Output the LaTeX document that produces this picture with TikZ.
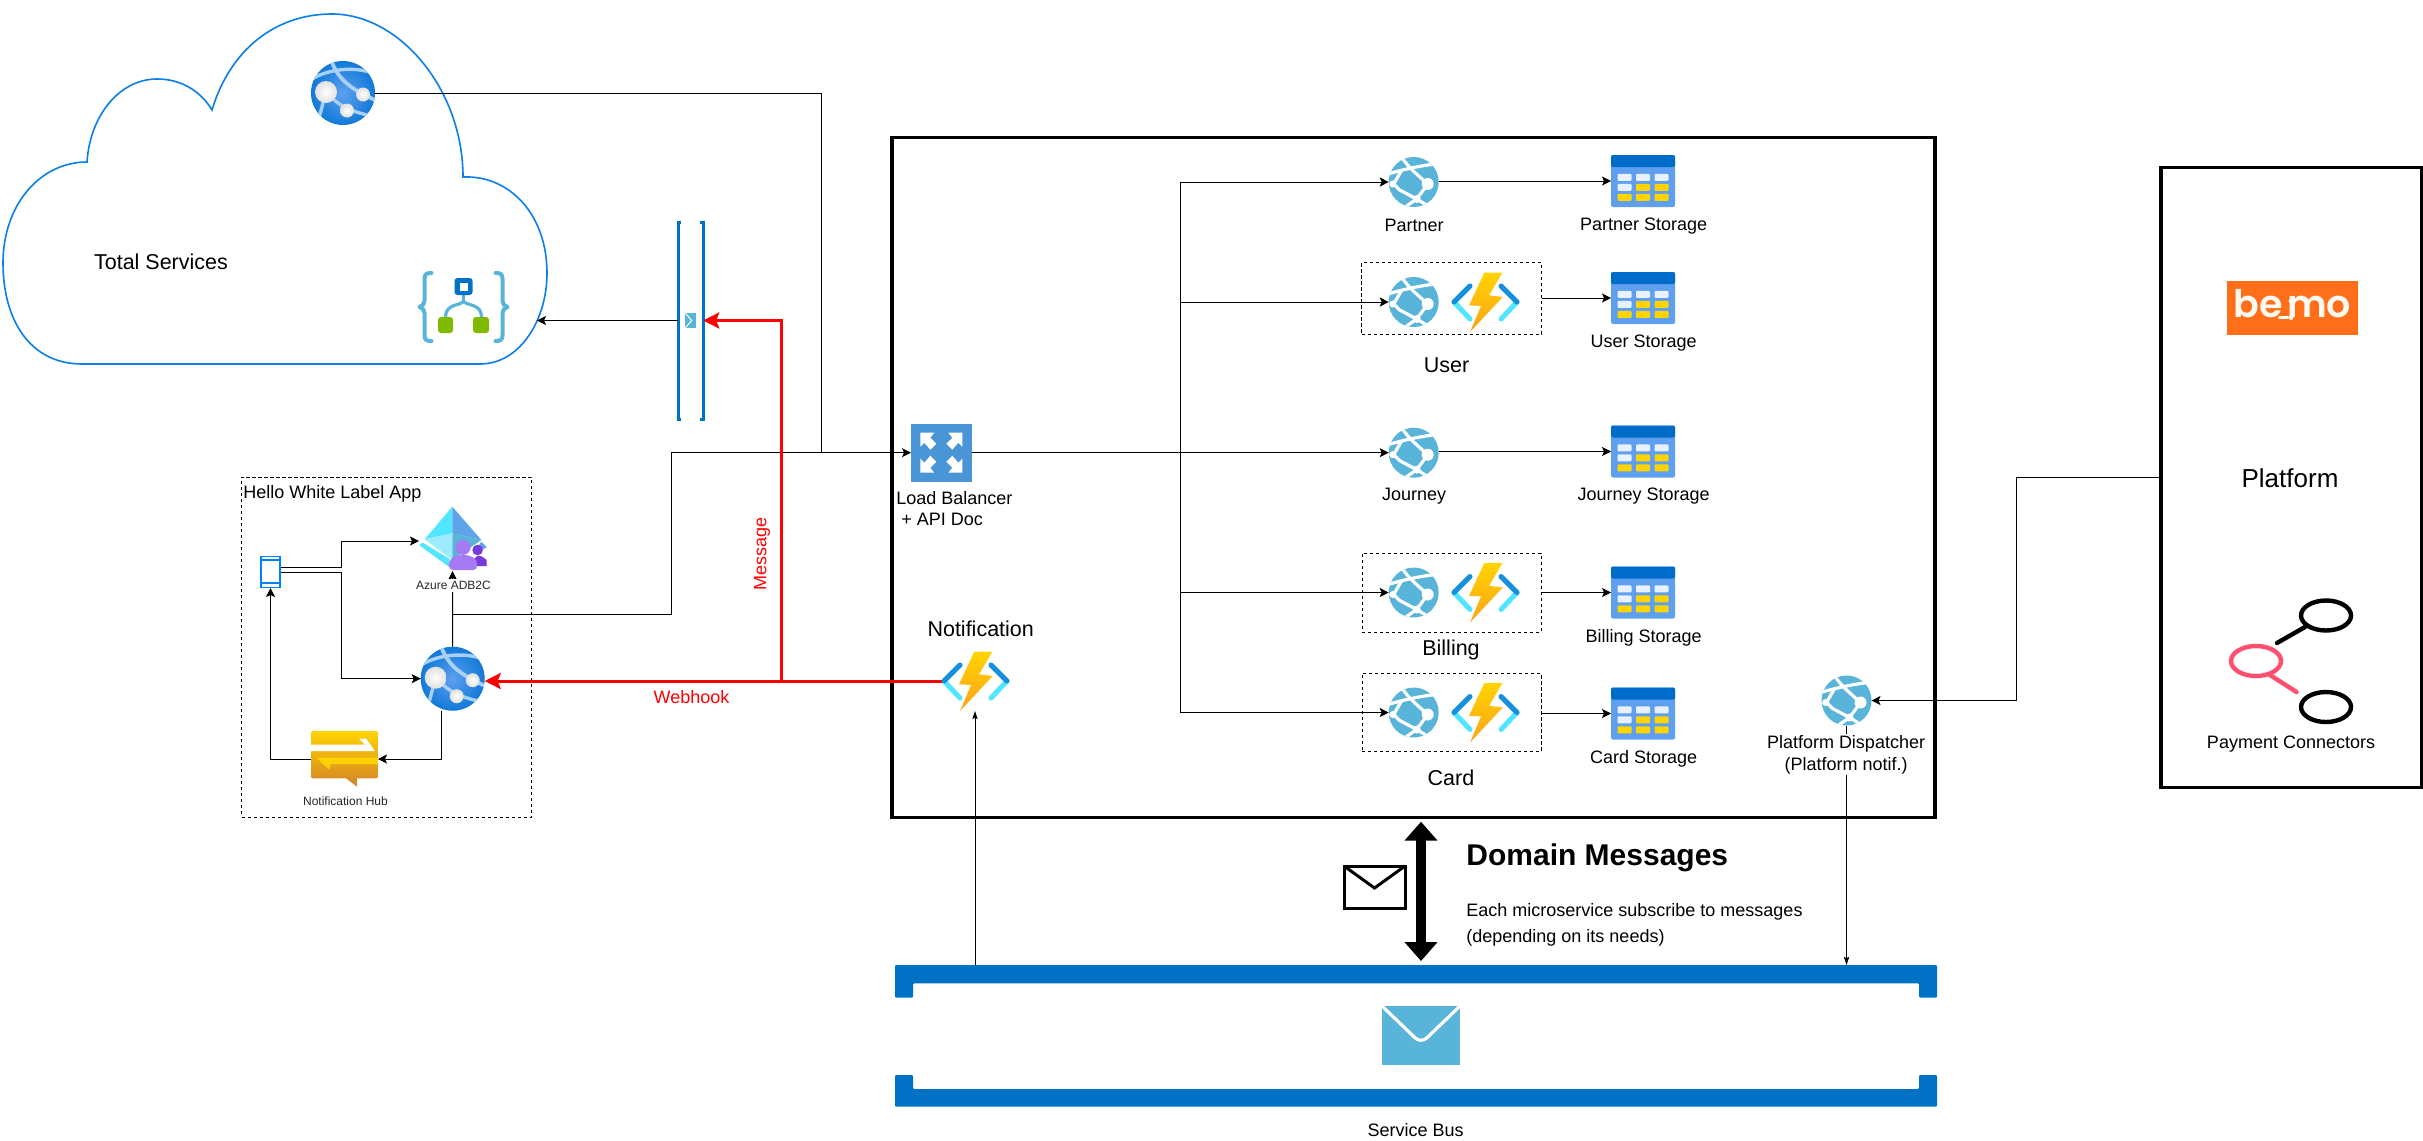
\documentclass[tikz,border=0pt]{standalone}
\usepackage{fontspec}
\setmainfont{Liberation Sans}
\newfontfamily\logofont[BoldFont=Poppins SemiBold]{Poppins}
\usetikzlibrary{arrows.meta,calc}
\definecolor{azblue}{HTML}{0072C6}
\definecolor{cloudblue}{HTML}{0A7FE8}
\definecolor{skyb}{HTML}{59B4D9}
\definecolor{lbblue}{HTML}{4A95D6}
\definecolor{stbody}{HTML}{5EA0EF}
\definecolor{stcell}{HTML}{E8F1FD}
\definecolor{gold}{HTML}{FFD400}
\definecolor{bemoor}{HTML}{FF6F1A}
\definecolor{pink}{HTML}{FF4F6E}
\definecolor{ltarc}{HTML}{A8D0F5}
\definecolor{globeout}{HTML}{0F78D8}
\definecolor{leaf}{HTML}{7FB900}
\definecolor{cyanl}{HTML}{50E6FF}
\definecolor{cyanp}{HTML}{9CEBFF}
\definecolor{funcb}{HTML}{1490DF}
\definecolor{boltb}{HTML}{FEA11B}
\definecolor{persona}{HTML}{A67AF4}
\definecolor{personb}{HTML}{773ADC}
\newcommand{\bracepath}[1]{\draw[skyb,line width=2pt,line cap=round,line join=round] (#1*-32,-34) .. controls (#1*-37,-34) and (#1*-39,-33) .. (#1*-39,-28) -- (#1*-39,-6) .. controls (#1*-39,-3) and (#1*-41,-1) .. (#1*-44,0) .. controls (#1*-41,1) and (#1*-39,3) .. (#1*-39,6) -- (#1*-39,28) .. controls (#1*-39,33) and (#1*-37,34) .. (#1*-32,34);}
\tikzset{
  x=0.5pt,y=-0.5pt,
  iconbox/.style 2 args={rectangle,draw=none,inner sep=0pt,outer sep=0pt,minimum width=#1*0.5pt,minimum height=#2*0.5pt},
  conn/.style={draw=black,line width=.5pt,-{Stealth[length=4.5pt,width=4.5pt,inset=1pt]}},
  thinconn/.style={draw=black,line width=.4pt,-{Stealth[length=4pt,width=2.6pt,inset=.6pt]}},
  plain/.style={draw=black,line width=.5pt},
  redconn/.style={draw=red,line width=1.5pt,-{Stealth[length=8pt,width=8pt,inset=1.5pt]}},
  dashbox/.style={draw=black,line width=.5pt,dash pattern=on 1.6pt off 1.4pt},
  heavybox/.style={draw=black,line width=1.6pt},
  txt/.style={inner sep=0pt,font=\fontsize{9}{10.8}\selectfont,text=black},
  txtsm/.style={inner sep=0pt,font=\fontsize{6}{7}\selectfont,text=black!85},
  txtlg/.style={inner sep=0pt,font=\fontsize{10.75}{13}\selectfont,text=black},
  webapp/.pic={
    \begin{scope}
      \clip (0,0) circle[radius=32];
      \shade[inner color=stbody,outer color=globeout] (-33,-33) rectangle (33,33);
      \draw[ltarc,line width=1.9pt] (-12,-33) .. controls (-4,-12) and (8,-4) .. (34,8);
      \draw[ltarc,line width=1.7pt] (-34,-12) .. controls (-18,-24) and (14,-28) .. (34,-18);
      \draw[ltarc,line width=1.7pt] (-17,-1) .. controls (-8,8) and (0,18) .. (34,24);
      \draw[ltarc,line width=1.7pt] (-17,-1) -- (-27,36);
    \end{scope}
    \shade[inner color=white,outer color=black!12] (-17,-1) circle[radius=11];
    \shade[inner color=white,outer color=black!12] (20,1.5) circle[radius=7];
    \shade[inner color=white,outer color=black!12] (4,17.5) circle[radius=7];
  },
  webservice/.pic={
    \begin{scope}
      \clip (0,0) circle[radius=25];
      \fill[skyb] (-26,-26) rectangle (26,26);
      \draw[white,line width=1.6pt] (-12,-25) .. controls (-6,-15) and (4,-7) .. (14,2);
      \draw[white,line width=1.6pt] (-26,-8) .. controls (-12,-12) and (4,-16) .. (22,-18);
      \draw[white,line width=1.6pt] (-20,2) -- (-14,8) -- (3,17) -- (16,25);
      \draw[white,line width=1.6pt] (14,2) -- (3,17) -- (-10,26);
      \draw[white,line width=1.6pt] (-20,2) -- (-12,-12);
    \end{scope}
    \fill[white] (14,2) circle[radius=6];
    \fill[white] (3,17) circle[radius=4];
    \fill[white] (-21,2) circle[radius=3.5];
  },
  azfunc/.pic={
    \draw[draw=cyanl,line width=2.5pt,line cap=round] (-31,0) -- (-15,17);
    \draw[draw=cyanl,line width=2.5pt,line cap=round] (32,0) -- (16,17);
    \draw[draw=funcb,line width=2.5pt,line cap=round] (-31,0) -- (-15,-16);
    \draw[draw=funcb,line width=2.5pt,line cap=round] (32,0) -- (16,-16);
    \shade[top color=gold,bottom color=boltb] (-.7,-29.3) -- (17.3,-29.3) -- (4,-6.7) -- (17.7,-5) -- (-15,30) -- (-4,4) -- (-16,3.3) -- cycle;
  },
  tablest/.pic={
    \fill[stbody,rounded corners=1pt] (-32,-26) rectangle (32,26);
    \fill[azblue!95!blue,rounded corners=1pt] (-32,-26) rectangle (32,-14);
    \foreach \cx/\cy/\cc in {-18.5/-3.7/stcell,0/-3.7/stcell,18.5/-3.7/stcell,-18.5/6.3/stcell,0/6.3/gold,18.5/6.3/gold,-18.5/16.3/gold,0/16.3/gold,18.5/16.3/gold}{
      \fill[\cc,rounded corners=.5pt] (\cx-7,\cy-3.5) rectangle (\cx+7,\cy+3.5);
    }
  },
  lbicon/.pic={
    \fill[lbblue] (-30.3,-29) rectangle (30.3,29);
    \foreach \sx/\sy in {1/1,-1/1,1/-1,-1/-1}{
      \fill[white] (\sx*-21,\sy*-20) -- (\sx*-7,\sy*-20) -- (\sx*-11,\sy*-15) -- (\sx*-5,\sy*-9) -- (\sx*-11,\sy*-3) -- (\sx*-17,\sy*-10) -- (\sx*-21,\sy*-6) -- cycle;
    }
  },
  logicapp/.pic={
    \bracepath{1}
    \bracepath{-1}
    \draw[skyb,line width=1.6pt] (0,-13) -- (0,-6);
    \draw[skyb,line width=1.6pt] (0,-6) .. controls (-2,-1) and (-18,-4) .. (-18,10);
    \draw[skyb,line width=1.6pt] (0,-6) .. controls (2,-1) and (18,-4) .. (18,10);
    \fill[azblue,rounded corners=1.5pt] (-9,-29) rectangle (9,-12);
    \fill[white] (-4,-24.5) rectangle (4,-16.5);
    \fill[leaf,rounded corners=1.5pt] (-25.5,10) rectangle (-10.5,26);
    \fill[leaf,rounded corners=1.5pt] (9.5,10) rectangle (25.5,26);
  },
  adbicon/.pic={
    \begin{scope}[shift={(-452.5,-541)}]
      \fill[cyanl] (452.3,506.7) -- (424.7,539.3) -- (452.3,533.3) -- cycle;
      \fill[stbody!80!skyb] (452.3,506.7) -- (481.4,540) -- (452.3,533.3) -- cycle;
      \fill[cyanp] (424.7,539.3) -- (452.3,533.3) -- (452.3,560) -- cycle;
      \fill[skyb] (452.3,533.3) -- (481.4,540) -- (452.3,560) -- cycle;
      \fill[cyanl] (419,545) -- (422.8,542.7) -- (449.6,559) -- (449.6,567.3) -- cycle;
      \fill[stbody] (481.4,541.7) -- (486.7,547.3) -- (472.6,555) -- cycle;
      \fill[personb] (477.6,550) circle[radius=5.3];
      \fill[personb] (472.6,566) -- (472.6,560) -- (478,555.5) -- (482,556.5) -- (486.7,560) -- (486.7,566) -- cycle;
      \fill[persona] (463,547.3) circle[radius=7.6];
      \fill[persona,rounded corners=2pt] (449,570) -- (449,560) -- (457,555) -- (469,555) -- (477.2,560) -- (477.2,570) -- cycle;
    \end{scope}
  },
  hubicon/.pic={
    \begin{scope}[shift={(-344.5,-759)}]
      \fill[boltb!80!black!90] (344.4,777) -- (357,786.7) -- (357,777) -- cycle;
      \shade[top color=gold,bottom color=boltb!85!black!95,rounded corners=1pt] (311,731) rectangle (378,778.3);
      \fill[white] (311,744.5) -- (365,744.5) -- (359,738.5) -- (366,738.5) -- (375,751) -- (311,751) -- cycle;
      \fill[yellow!70!orange] (378,757.5) -- (316,757.5) -- (329,769.5) -- (331,764) -- (378,764) -- cycle;
    \end{scope}
  },
  mobileicon/.pic={
    \draw[blue!50!cyan,line width=.8pt] (-9.5,-15.5) rectangle (9.5,15.5);
    \draw[blue!50!cyan,line width=.6pt] (-9.5,-12) -- (9.5,-12) (-9.5,11) -- (9.5,11);
  },
  envelope/.pic={
    \fill[skyb] (-39,-29.5) rectangle (39,29.5);
    \draw[white,line width=1.6pt,rounded corners=4pt] (-39,-29.5) -- (0,8) -- (39,-29.5);
  },
  envsmall/.pic={
    \fill[skyb] (-5.5,-7.5) rectangle (5.5,7.5);
    \draw[white,line width=.5pt] (-5.5,-7.5) -- (1,0) -- (-5.5,7.5);
  },
  connectoricon/.pic={
    \draw[black,line width=2.2pt] (35,-45.5) ellipse (25 and 15);
    \draw[black,line width=2.2pt,line cap=round] (14,-34) -- (-14,-18);
    \draw[pink,line width=2.2pt] (-35,0) ellipse (25 and 15);
    \draw[pink,line width=2.2pt,line cap=round] (-21,14) -- (5.5,31);
    \draw[black,line width=2.2pt] (35,46) ellipse (25 and 15);
  },
}
\begin{document}
\begin{tikzpicture}
\useasboundingbox (0,0) rectangle (2423,1140);
\fill[white] (0,0) rectangle (2423,1140);

% ---- containers
\draw[cloudblue,line width=.8pt,fill=white] (82,364) .. controls (30,364) and (3,320) .. (3,263)
  .. controls (3,205) and (40,162) .. (87,162) .. controls (90,115) and (120,79) .. (157,79)
  .. controls (180,79) and (200,90) .. (212,110) .. controls (230,50) and (275,14) .. (332,14)
  .. controls (400,14) and (463,90) .. (463,177) .. controls (510,175) and (547,215) .. (547,273)
  .. controls (547,320) and (520,364) .. (480,364) -- cycle;
\node[iconbox={1043}{680},heavybox] (main) at (1413.4,477.5) {};
\node[iconbox={260.7}{620.4},heavybox] (plat) at (2291.3,477.6) {};
\node[iconbox={290}{340},dashbox] (appbox) at (386.5,647) {};
\node[iconbox={180}{71.3},dashbox] (userbox) at (1451.5,298.4) {};
\node[iconbox={179}{79},dashbox] (billbox) at (1451.5,592.7) {};
\node[iconbox={179}{78.3},dashbox] (cardbox) at (1451.5,712.4) {};

% ---- icons
\node[iconbox={64}{64}] (gtop) at (343,93) {};   \pic at (gtop) {webapp};
\node[iconbox={91}{70}] (logic) at (463.5,307) {}; \pic at (logic) {logicapp};
\node[iconbox={64}{64}] (web) at (452.7,678.7) {}; \pic at (web) {webapp};
\node[iconbox={67}{60}] (adb) at (452.5,541) {};  \pic at (adb) {adbicon};
\node[iconbox={20}{32}] (mob) at (270.5,572) {};  \pic at (mob) {mobileicon};
\node[iconbox={67}{56}] (hub) at (344.5,759) {};  \pic at (hub) {hubicon};
\node[iconbox={60.6}{58}] (lb) at (941.3,452.7) {}; \pic at (lb) {lbicon};
\node[iconbox={50}{50}] (partner) at (1413.7,182) {}; \pic at (partner) {webservice};
\node[iconbox={50}{50}] (user) at (1413.7,302) {};    \pic at (user) {webservice};
\node[iconbox={50}{50}] (journey) at (1413.7,452.7) {}; \pic at (journey) {webservice};
\node[iconbox={50}{50}] (billing) at (1413.7,592.5) {}; \pic at (billing) {webservice};
\node[iconbox={50}{50}] (card) at (1413.7,712.5) {};    \pic at (card) {webservice};
\node[iconbox={50}{50}] (disp) at (1846.5,700.5) {};    \pic at (disp) {webservice};
\node[iconbox={68}{60}] (ffu) at (1485,302) {}; \pic at (ffu) {azfunc};
\node[iconbox={68}{60}] (ffb) at (1485,592.5) {}; \pic at (ffb) {azfunc};
\node[iconbox={68}{60}] (ffc) at (1485,712.5) {}; \pic at (ffc) {azfunc};
\node[iconbox={66}{60}] (notif) at (975,681) {}; \pic at (notif) {azfunc};
\node[iconbox={64}{52}] (spartner) at (1643,181) {}; \pic at (spartner) {tablest};
\node[iconbox={64}{52}] (suser) at (1643,298) {};    \pic at (suser) {tablest};
\node[iconbox={64}{52}] (sjourney) at (1643,451.5) {}; \pic at (sjourney) {tablest};
\node[iconbox={64}{52}] (sbilling) at (1643,592.5) {}; \pic at (sbilling) {tablest};
\node[iconbox={64}{52}] (scard) at (1643,713.5) {};  \pic at (scard) {tablest};

% small service bus (vertical)
\node[iconbox={25}{197}] (sb) at (690.7,320.5) {};
\draw[azblue,line width=1.5pt] ([xshift=1.5pt]sb.north west) -- (sb.north west) -- (sb.south west) -- ([xshift=1.5pt]sb.south west);
\draw[azblue,line width=1.5pt] ([xshift=-1.5pt]sb.north east) -- (sb.north east) -- (sb.south east) -- ([xshift=-1.5pt]sb.south east);
\pic at (sb) {envsmall};

% large service bus
\node[iconbox={1042}{142}] (bus) at (1416,1036) {};
\fill[azblue,rounded corners=.6pt] (895,965) -- (1937,965) -- (1937,997.7) -- (1919,997.7) -- (1919,983.3) -- (913,983.3) -- (913,997.7) -- (895,997.7) -- cycle;
\fill[azblue,rounded corners=.6pt] (895,1106.7) -- (1937,1106.7) -- (1937,1075) -- (1919,1075) -- (1919,1089) -- (913,1089) -- (913,1075) -- (895,1075) -- cycle;
\pic at (1421,1035.5) {envelope};

% ---- named free ends
\coordinate (trunk) at (1180.6,452.7);
\coordinate (jtop) at (821,452.7);
\coordinate (japp) at (671.6,452.7);
\coordinate (jweb) at (453,614);
\coordinate (jred) at (781.4,681);
\coordinate (cloudedge) at (537,320.5);
\coordinate (jplat) at (2016.5,600);
\coordinate (domtop) at (1421,821.7);
\coordinate (dombot) at (1421,961);

% ---- connectors
\draw[plain] (gtop.east) -| (jtop);
\draw[conn] (jweb) -| (japp) -- (lb.west);
\draw[conn] (sb.west) -- (cloudedge);
\draw[conn] ([yshift=2.5pt]mob.east) -- ++(60.5,0) |- (adb.west);
\draw[conn] (mob.east) -- ++(60.5,0) |- (web.west);
\draw[conn] (web.north) -- (adb.south);
\draw[conn] ([xshift=-5.5pt]web.south) |- (hub.east);
\draw[conn] (hub.west) -| (mob.south);
\draw[conn] (lb.east) -- (journey.west);
\draw[conn] (trunk) |- (partner.west);
\draw[conn] (trunk) |- (user.west);
\draw[conn] (trunk) |- (billing.west);
\draw[conn] (trunk) |- (card.west);
\draw[conn] (spartner.west -| partner.east) -- (spartner.west);
\draw[conn] (suser.west -| userbox.east) -- (suser.west);
\draw[conn] (sjourney.west -| journey.east) -- (sjourney.west);
\draw[conn] (sbilling.west -| billbox.east) -- (sbilling.west);
\draw[conn] (scard.west -| cardbox.east) -- (scard.west);
\draw[conn] (plat.west) -| (jplat) |- (disp.east);
\draw[thinconn] (bus.north -| notif.south) -- (notif.south);
\draw[thinconn] (disp.south) -- (disp.south |- bus.north);
\draw[redconn] (notif.west) -- (notif.west -| web.east);
\draw[redconn] (jred) |- (sb.east);
\draw[draw=black,line width=5pt,{Triangle[length=9.5pt,width=16pt]}-{Triangle[length=9.5pt,width=16pt]}] (domtop) -- (dombot);

% envelope symbol
\node[iconbox={61}{42},draw=black,line width=1.5pt,fill=white] (mail) at (1374.5,887) {};
\draw[black,line width=1.5pt] (mail.north west) -- (mail.center |- 0,888) -- (mail.north east);

% Platform logo
\node[iconbox={131}{54},fill=bemoor] (bemo) at (2292.5,307.6) {};
\node[inner sep=0pt,text=white!95!orange,font=\logofont\bfseries\fontsize{19}{22}\selectfont] (bemotext) at (2292.5,304) {be\kern 2pt mo};
\fill[white!95!orange] (2291,301) circle[radius=2.4];
\fill[white!95!orange] (2291,317.5) circle[radius=2.4];
\draw[white!95!orange,line width=1.1pt,line cap=round] (2279,317.5) -- (2288,317.5);
\pic at (2291,661) {connectoricon};

% ---- labels
\node[txtlg] (ltotal) at (161,262) {Total Services};
\node[txt,anchor=west] (lapp) at (243,494) {Hello White Label App};
\node[txtsm,fill=white,inner ysep=1pt] (ladb) at (453.5,585.5) {Azure ADB2C};
\node[txtsm] (lhub) at (345.5,801.5) {Notification Hub};
\node[txt,text=red] (lweb) at (691.5,696.7) {Webhook};
\node[txt,text=red,rotate=90] (lmsg) at (762,554) {Message};
\node[txt,align=left,anchor=west,font=\fontsize{9}{10.4}\selectfont] (llb) at (896,508.5) {Load Balancer\\\hspace{2.5pt}+ API Doc};
\node[txtlg] (lnotif) at (980.7,628.5) {Notification};
\node[txt] (lpartner) at (1414,225) {Partner};
\node[txt] (lspartner) at (1643.6,226.5) {Partner Storage};
\node[txtlg] (luser) at (1446.6,365) {User};
\node[txt] (lsuser) at (1643.6,343) {User Storage};
\node[txt] (ljourney) at (1414,496.5) {Journey};
\node[txt] (lsjourney) at (1643.6,496.5) {Journey Storage};
\node[txtlg] (lbilling) at (1451,650) {Billing};
\node[txt] (lsbilling) at (1643.6,637.5) {Billing Storage};
\node[txtlg] (lcard) at (1451,778) {Card};
\node[txt] (lscard) at (1643.6,758.5) {Card Storage};
\node[txt,fill=white,align=center,font=\fontsize{9}{11}\selectfont,inner ysep=.5pt] (ldisp) at (1846,754.5) {Platform Dispatcher\\(Platform notif.)};
\node[txt,anchor=west,font=\bfseries\fontsize{15}{18}\selectfont] (ldom) at (1466,858) {Domain Messages};
\node[txt,anchor=west,align=left,font=\fontsize{9}{13}\selectfont] (leach) at (1466,925) {Each microservice subscribe to messages\\(depending on its needs)};
\node[txt] (lbus) at (1415.5,1130) {Service Bus};
\node[inner sep=0pt,font=\fontsize{13}{15}\selectfont] (lplat) at (2290,478) {Platform};
\node[txt] (lpay) at (2291,744.5) {Payment Connectors};
\end{tikzpicture}
\end{document}
